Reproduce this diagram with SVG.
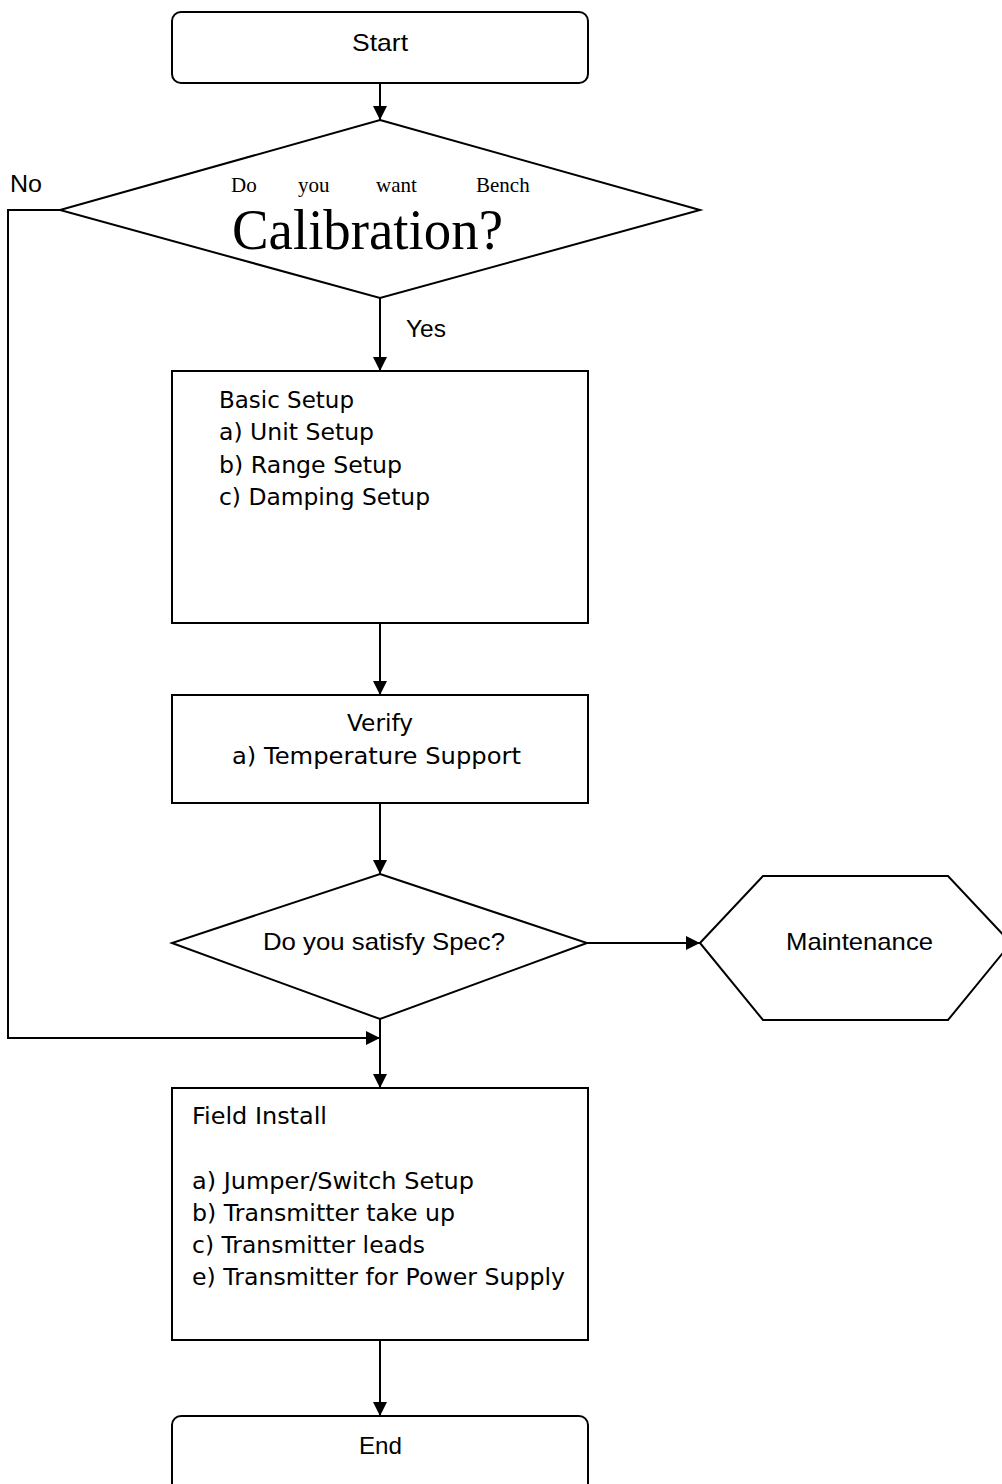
<svg xmlns="http://www.w3.org/2000/svg" width="1002" height="1484" viewBox="0 0 1002 1484">
<defs>
<marker id="arr" viewBox="0 0 14 14" refX="14" refY="7" markerWidth="14" markerHeight="14" markerUnits="userSpaceOnUse" orient="auto">
<path d="M0,0 L14,7 L0,14 Z" fill="#000"/>
</marker>
<style>
.s{fill:#fff;stroke:#000;stroke-width:2}
.c{fill:none;stroke:#000;stroke-width:2}
.t{font-family:"DejaVu Sans","Liberation Sans",sans-serif;font-size:23px;fill:#000}
.n{font-family:"Liberation Sans","DejaVu Sans",sans-serif;font-size:24px;fill:#000}
.r{font-family:"Liberation Serif","DejaVu Serif",serif;fill:#000}
</style>
</defs>
<rect width="1002" height="1484" fill="#fff"/>
<g id="connectors">
<line class="c" x1="380" y1="83" x2="380" y2="120" marker-end="url(#arr)"/>
<line class="c" x1="380" y1="298" x2="380" y2="371" marker-end="url(#arr)"/>
<line class="c" x1="380" y1="623" x2="380" y2="695" marker-end="url(#arr)"/>
<line class="c" x1="380" y1="803" x2="380" y2="874" marker-end="url(#arr)"/>
<line class="c" x1="587" y1="943" x2="700" y2="943" marker-end="url(#arr)"/>
<line class="c" x1="380" y1="1019" x2="380" y2="1088" marker-end="url(#arr)"/>
<polyline class="c" points="60,210 8,210 8,1038 380,1038" marker-end="url(#arr)"/>
<line class="c" x1="380" y1="1340" x2="380" y2="1416" marker-end="url(#arr)"/>
<text class="n" x="10" y="192" textLength="32" lengthAdjust="spacingAndGlyphs">No</text>
<text class="n" x="406" y="337" textLength="40" lengthAdjust="spacingAndGlyphs">Yes</text>
</g>
<g id="start">
<rect class="s" x="172" y="12" width="416" height="71" rx="9"/>
<text class="n" x="352" y="51" textLength="56" lengthAdjust="spacingAndGlyphs">Start</text>
</g>
<g id="decision1">
<polygon class="s" points="380,120 700,210 380,298 60,210"/>
<text class="r" y="192" font-size="21"><tspan x="231">Do</tspan><tspan x="298">you</tspan><tspan x="376">want</tspan><tspan x="476">Bench</tspan></text>
<text class="r" x="232" y="249" font-size="57" textLength="271" lengthAdjust="spacingAndGlyphs">Calibration?</text>
</g>
<g id="basic-setup">
<rect class="s" x="172" y="371" width="416" height="252"/>
<text class="t" x="219" y="408" textLength="135" lengthAdjust="spacingAndGlyphs">Basic Setup</text>
<text class="t" x="219" y="440" textLength="155" lengthAdjust="spacingAndGlyphs">a) Unit Setup</text>
<text class="t" x="219" y="473" textLength="183" lengthAdjust="spacingAndGlyphs">b) Range Setup</text>
<text class="t" x="219" y="505" textLength="211" lengthAdjust="spacingAndGlyphs">c) Damping Setup</text>
</g>
<g id="verify">
<rect class="s" x="172" y="695" width="416" height="108"/>
<text class="t" x="347" y="731" textLength="66" lengthAdjust="spacingAndGlyphs">Verify</text>
<text class="t" x="232" y="764" textLength="289" lengthAdjust="spacingAndGlyphs">a) Temperature Support</text>
</g>
<g id="decision2">
<polygon class="s" points="380,874 587,943 380,1019 172,943"/>
<text class="n" x="263" y="950" textLength="242" lengthAdjust="spacingAndGlyphs">Do you satisfy Spec?</text>
</g>
<g id="maintenance">
<polygon class="s" points="700,943 763,876 948,876 1011,943 948,1020 763,1020"/>
<text class="n" x="786" y="950" textLength="147" lengthAdjust="spacingAndGlyphs">Maintenance</text>
</g>
<g id="field-install">
<rect class="s" x="172" y="1088" width="416" height="252"/>
<text class="t" x="192" y="1124" textLength="135" lengthAdjust="spacingAndGlyphs">Field Install</text>
<text class="t" x="192" y="1189" textLength="282" lengthAdjust="spacingAndGlyphs">a) Jumper/Switch Setup</text>
<text class="t" x="192" y="1221" textLength="263" lengthAdjust="spacingAndGlyphs">b) Transmitter take up</text>
<text class="t" x="192" y="1253" textLength="233" lengthAdjust="spacingAndGlyphs">c) Transmitter leads</text>
<text class="t" x="192" y="1285" textLength="373" lengthAdjust="spacingAndGlyphs">e) Transmitter for Power Supply</text>
</g>
<g id="end">
<rect class="s" x="172" y="1416" width="416" height="80" rx="9"/>
<text class="n" x="359" y="1454" textLength="43" lengthAdjust="spacingAndGlyphs">End</text>
</g>
</svg>
